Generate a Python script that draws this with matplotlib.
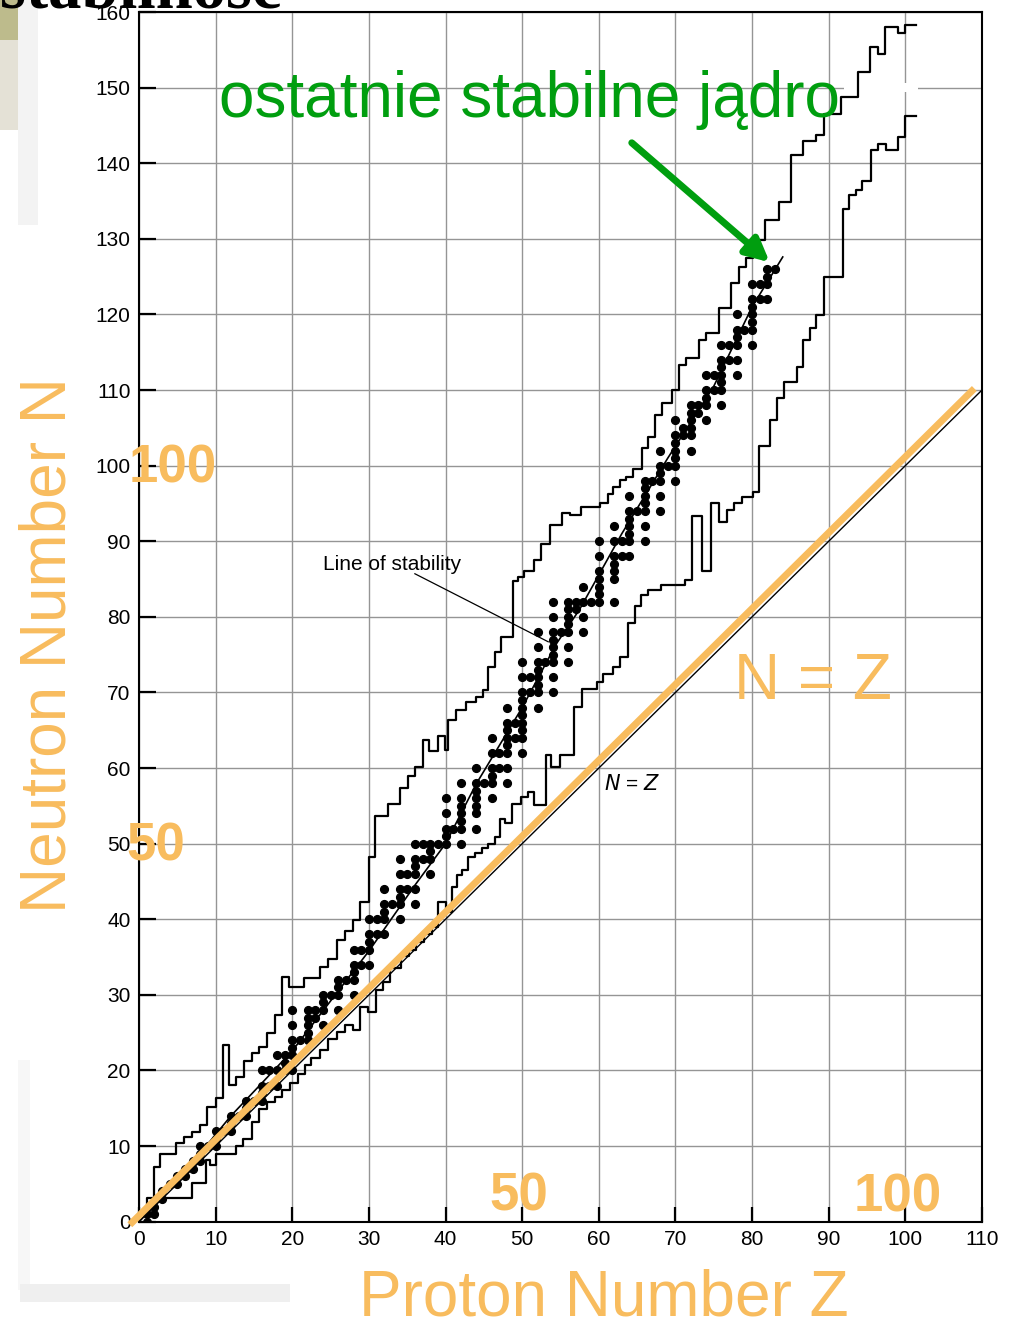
"""
Chart of the nuclides (N vs Z) with the band of known nuclei, the stable
nuclei as dots, the line of stability and the N = Z reference line.
Slide-style overlay labels in orange / green on top of the scanned figure.
"""

import matplotlib
matplotlib.use("Agg")
import matplotlib.pyplot as plt
from matplotlib.patches import Rectangle

# ---------------------------------------------------------------------------
# Data
# ---------------------------------------------------------------------------

# Upper limit of known nuclei: step edges (Z) and the level (N) after each edge
UPPER_Z = [1.0, 1.0, 1.9, 2.7, 4.8, 5.9, 6.9, 7.9, 8.9, 10.1,
           10.9, 11.8, 12.7, 13.7, 14.7, 15.7, 16.7, 17.7, 18.7, 19.6,
           21.5, 23.6, 24.7, 25.9, 26.9, 27.9, 28.8, 30.0, 30.8, 32.5,
           34.0, 35.1, 36.0, 37.0, 37.9, 39.0, 39.9, 40.3, 41.4, 42.7,
           44.0, 44.9, 45.6, 46.4, 47.3, 48.8, 49.4, 50.3, 51.6, 52.5,
           53.6, 55.2, 56.2, 57.7, 60.1, 61.2, 61.9, 62.7, 63.6, 64.5,
           65.6, 66.4, 67.3, 68.2, 69.5, 70.5, 71.4, 73.1, 74.0, 75.7,
           77.3, 78.3, 79.2, 80.1, 81.7, 83.5, 85.1, 86.7, 88.4, 89.4,
           91.6, 93.8, 95.4, 96.4, 97.3, 99.0, 99.9]
UPPER_N = [0.8, 3.1, 7.3, 8.9, 10.4, 11.2, 11.9, 12.8, 15.2, 16.3,
           23.4, 18.1, 19.2, 21.2, 22.3, 23.1, 24.9, 27.4, 32.3, 31.1,
           32.2, 33.7, 34.8, 37.3, 38.4, 39.9, 42.3, 48.3, 53.6, 55.3,
           57.3, 58.9, 60.2, 63.7, 62.2, 64.2, 62.4, 66.4, 67.7, 68.8,
           69.4, 70.3, 73.4, 75.4, 77.4, 84.7, 85.3, 86.0, 87.5, 89.7,
           92.1, 93.7, 93.5, 94.5, 95.0, 96.3, 97.2, 98.1, 98.5, 99.6,
           102.3, 103.8, 106.7, 108.3, 110.0, 113.3, 114.2, 116.6, 117.5, 120.8,
           124.1, 126.3, 127.4, 129.9, 132.5, 134.9, 141.1, 142.9, 143.7, 146.5,
           148.8, 152.1, 155.4, 154.5, 158.0, 157.2, 158.3]
UPPER_END = 101.4

# Lower limit of known nuclei
LOWER_Z = [1.9, 1.9, 6.9, 8.8, 9.2, 10.1, 12.7, 13.6, 14.7, 15.7,
           16.7, 17.7, 18.7, 19.7, 20.8, 21.6, 22.5, 23.6, 24.7, 25.8,
           26.9, 27.9, 28.8, 29.9, 30.9, 31.9, 32.8, 34.2, 35.2, 36.2,
           37.2, 38.2, 39.0, 40.1, 40.8, 41.5, 42.1, 42.9, 43.8, 44.7,
           45.5, 46.4, 47.1, 47.7, 48.7, 49.9, 50.8, 51.6, 53.1, 53.8,
           54.9, 56.8, 57.8, 59.7, 60.6, 61.9, 62.7, 63.8, 64.7, 65.5,
           66.4, 68.1, 71.3, 72.2, 73.4, 74.6, 75.7, 76.7, 77.7, 78.7,
           80.1, 80.9, 82.4, 83.3, 84.2, 85.8, 86.7, 87.5, 88.4, 89.4,
           91.8, 92.7, 93.5, 94.4, 95.5, 96.4, 97.5, 99.0, 99.9]
LOWER_N = [0.8, 3.1, 5.1, 8.2, 7.5, 9.0, 10.0, 11.0, 13.2, 14.9,
           15.8, 16.5, 17.4, 18.3, 19.6, 20.7, 21.6, 22.7, 24.2, 25.1,
           26.0, 25.3, 28.4, 27.8, 30.6, 31.7, 33.5, 35.1, 36.0, 37.0,
           38.0, 39.0, 42.3, 41.0, 44.3, 45.9, 46.5, 48.3, 48.7, 49.4,
           50.0, 50.9, 53.3, 52.7, 55.3, 56.2, 56.9, 55.1, 61.7, 60.2,
           61.7, 68.1, 70.5, 71.4, 72.5, 73.4, 74.7, 79.2, 81.4, 82.9,
           83.6, 84.2, 84.9, 93.3, 86.0, 95.0, 92.6, 94.1, 95.0, 95.8,
           96.5, 102.6, 106.1, 109.0, 111.0, 113.0, 116.6, 118.2, 119.9, 125.0,
           134.0, 135.8, 136.5, 137.6, 141.8, 142.6, 141.8, 143.5, 146.2]
LOWER_END = 101.4

# Stable nuclei: Z -> list of N
STABLE_LIGHT = {
    1: [0, 1], 2: [1, 2], 3: [3, 4], 4: [5], 5: [5, 6], 6: [6, 7],
    7: [7, 8], 8: [8, 9, 10], 9: [10], 10: [10, 11, 12], 11: [12],
    12: [12, 13, 14], 13: [14], 14: [14, 15, 16], 15: [16],
    16: [16, 17, 18, 20], 17: [18, 20], 18: [18, 20, 22], 19: [20, 21, 22],
    20: [20, 22, 23, 24, 26, 28], 21: [24], 22: [24, 25, 26, 27, 28],
    23: [27, 28], 24: [26, 28, 29, 30], 25: [30], 26: [28, 30, 31, 32],
    27: [32], 28: [30, 32, 33, 34, 36],
}
STABLE_MEDIUM = {
    29: [34, 36], 30: [34, 36, 37, 38, 40], 31: [38, 40],
    32: [38, 40, 41, 42, 44], 33: [42], 34: [40, 42, 43, 44, 46, 48],
    35: [44, 46], 36: [42, 44, 46, 47, 48, 50], 37: [48, 50],
    38: [46, 48, 49, 50], 39: [50], 40: [50, 51, 52, 54, 56], 41: [52],
    42: [50, 52, 53, 54, 55, 56, 58], 44: [52, 54, 55, 56, 57, 58, 60],
    45: [58], 46: [56, 58, 59, 60, 62, 64], 47: [60, 62],
    48: [58, 60, 62, 63, 64, 65, 66, 68], 49: [64, 66],
    50: [62, 64, 65, 66, 67, 68, 69, 70, 72, 74], 51: [70, 72],
    52: [68, 70, 71, 72, 73, 74, 76, 78], 53: [74],
    54: [70, 72, 74, 75, 76, 77, 78, 80, 82], 55: [78],
    56: [74, 76, 78, 79, 80, 81, 82],
}
STABLE_HEAVY = {
    57: [81, 82], 58: [78, 80, 82, 84], 59: [82],
    60: [82, 83, 84, 85, 86, 88, 90], 62: [82, 85, 86, 87, 88, 90, 92],
    63: [88, 90], 64: [88, 90, 91, 92, 93, 94, 96], 65: [94],
    66: [90, 92, 94, 95, 96, 97, 98], 67: [98], 68: [94, 96, 98, 99, 100, 102],
    69: [100], 70: [98, 100, 101, 102, 103, 104, 106], 71: [104, 105],
    72: [102, 104, 105, 106, 107, 108], 73: [107, 108],
    74: [106, 108, 109, 110, 112], 75: [110, 112],
    76: [108, 110, 111, 112, 113, 114, 116], 77: [114, 116],
    78: [112, 114, 116, 117, 118, 120], 79: [118],
    80: [116, 118, 119, 120, 121, 122, 124], 81: [122, 124],
    82: [122, 124, 125, 126], 83: [126],
}

# Line of stability drawn through the dots
STAB_Z = [0, 6, 12, 20, 30, 36, 40, 44, 50, 54.5, 57.5, 63, 69, 75, 80, 84]
STAB_N = [0, 6.6, 14.0, 22.6, 35.8, 44.5, 50.0, 57.9, 68.0, 76.5, 81.0, 91.0,
          101.0, 110.5, 121.0, 127.6]

ORANGE = "#F8BC5E"
GREEN = "#009E0F"
SANS = ["Liberation Sans", "DejaVu Sans"]
NARROW = ["Liberation Sans Narrow", "Liberation Sans", "DejaVu Sans"]

W_PX, H_PX = 1009, 1322


def _stable_points():
    zs, ns = [], []
    for block in (STABLE_LIGHT, STABLE_MEDIUM, STABLE_HEAVY):
        for z, n_list in block.items():
            for n in n_list:
                zs.append(z)
                ns.append(n)
    return zs, ns


def _step(ax, z, n, z_end):
    ax.step(list(z) + [z_end], list(n) + [n[-1]], where="post",
            color="black", lw=1.6, zorder=3)


def _px_rect(fig, x0, y0, x1, y1, color):
    # rectangle given in picture pixels (origin top-left)
    fig.patches.append(Rectangle((x0 / W_PX, 1 - y1 / H_PX),
                                 (x1 - x0) / W_PX, (y1 - y0) / H_PX,
                                 transform=fig.transFigure, color=color,
                                 lw=0, zorder=0))


def main():
    plt.rcParams["font.family"] = SANS
    fig = plt.figure(figsize=(W_PX / 100, H_PX / 100), dpi=100)

    # faint slide decorations around the scan
    _px_rect(fig, 0, 0, 18, 40, "#BDBB8C")
    _px_rect(fig, 0, 40, 18, 130, "#E4E1D6")
    _px_rect(fig, 18, 0, 38, 225, "#F3F3F3")
    _px_rect(fig, 18, 1060, 30, 1290, "#F7F7F7")
    _px_rect(fig, 20, 1284, 290, 1302, "#EFEFEF")
    fig.text(0.0, 1 - 8 / H_PX, "stabilność", fontsize=48, fontweight="bold",
             family=["Liberation Serif", "DejaVu Serif"], va="baseline",
             ha="left", color="black")

    ax = fig.add_axes([139 / W_PX, 1 - 1221.7 / H_PX,
                       (982 - 139) / W_PX, (1221.7 - 12) / H_PX])
    ax.set_xlim(0, 110)
    ax.set_ylim(0, 160)
    ax.set_xticks(range(0, 111, 10))
    ax.set_yticks(range(0, 161, 10))
    ax.tick_params(direction="in", length=12, width=1.6, labelsize=15,
                   pad=6, color="black")
    ax.tick_params(axis="x", length=11)
    ax.grid(True, color="#959595", lw=1.0)
    ax.set_axisbelow(True)
    for sp in ax.spines.values():
        sp.set_linewidth(1.5)

    # small break of the N = 150 grid line right of the green caption
    ax.add_patch(Rectangle((92.0, 149.4), 9.6, 1.2, color="white", lw=0,
                           zorder=1))

    _step(ax, UPPER_Z, UPPER_N, UPPER_END)
    _step(ax, LOWER_Z, LOWER_N, LOWER_END)

    zs, ns = _stable_points()
    ax.plot(zs, ns, "o", color="black", ms=5.6, zorder=4)
    ax.plot(STAB_Z, STAB_N, color="black", lw=1.2, zorder=4)

    ax.plot([0, 110], [0, 110], color="black", lw=1.0, zorder=4)
    ax.plot([-1.2, 109.0], [-0.4, 110.2], color=ORANGE, lw=5, zorder=5,
            solid_capstyle="butt", clip_on=False)

    ax.text(33.0, 86.2, "Line of stability", fontsize=15, ha="center",
            va="baseline", zorder=6)
    ax.plot([36.0, 53.4], [85.7, 76.7], color="black", lw=0.9, zorder=6)
    ax.text(64.3, 57.1, "$N$ = $Z$", fontsize=15, ha="center",
            va="baseline", zorder=6)

    # slide overlay labels
    ax.text(87.9, 69.2, "N = Z", fontsize=46, color=ORANGE, ha="center",
            va="baseline", zorder=7)
    for z, n, s in [(4.4, 97.8, "100"), (2.2, 47.8, "50"),
                    (49.5, 1.5, "50"), (99.0, 1.3, "100")]:
        ax.text(z, n, s, fontsize=38, fontweight="bold", color=ORANGE,
                family=NARROW, ha="center", va="baseline", zorder=7,
                clip_on=False)

    ax.text(51.0, 146.1, "ostatnie stabilne jądro", fontsize=46, color=GREEN,
            ha="center", va="baseline", zorder=7)
    ax.annotate("", xy=(82.3, 126.9), xytext=(64.3, 142.7),
                arrowprops=dict(arrowstyle="-|>,head_length=1.4,head_width=0.7",
                                color=GREEN, lw=5, shrinkA=0, shrinkB=0),
                zorder=7)

    fig.text(604 / W_PX, 1 - 1316 / H_PX, "Proton Number Z", fontsize=46,
             color=ORANGE, ha="center", va="baseline")
    fig.text(66 / W_PX, 1 - 645 / H_PX, "Neutron Number N", fontsize=46,
             color=ORANGE, ha="center", va="baseline", rotation=90,
             rotation_mode="anchor")

    fig.savefig("out.png", dpi=100)
    plt.close(fig)


if __name__ == "__main__":
    main()
